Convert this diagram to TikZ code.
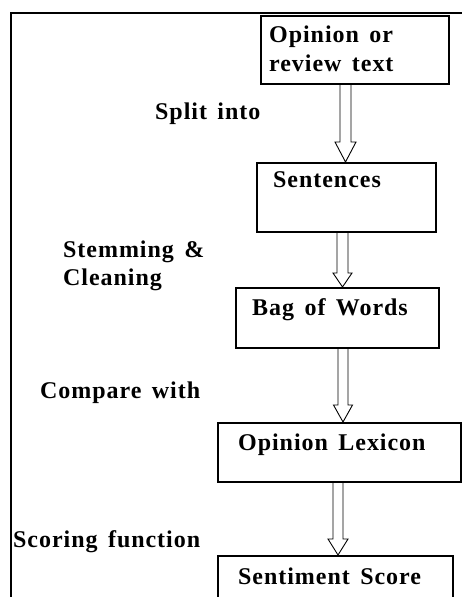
\documentclass[tikz,border=0pt]{standalone}
\usepackage{fontspec}
\setmainfont{Liberation Serif}[LetterSpace=4, WordSpace=1.5]
\usetikzlibrary{calc}
\newcommand\hollowarrow[6]{%
  \path[harrow] let \p1=(#1.south), \p2=(#2.north) in
   (#3pt-#4pt,\y1) -- (#3pt-#4pt,\y2+#6pt) -- (#3pt-#5pt,\y2+#6pt) -- (#3pt,\y2)
   -- (#3pt+#5pt,\y2+#6pt) -- (#3pt+#4pt,\y2+#6pt) -- (#3pt+#4pt,\y1);}
\begin{document}
\begin{tikzpicture}[x=1pt,y=-1pt,
  box/.style={draw, line width=1.6pt, inner sep=0pt, anchor=north west},
  lbl/.style={anchor=base west, inner sep=0pt, font=\fontsize{24}{28}\selectfont\bfseries},
  harrow/.style={draw, line width=0.9pt, line join=miter},
  frame/.style={draw, line width=1.6pt}]
\useasboundingbox (0,0) rectangle (462,597);
\clip (0,0) rectangle (462,597);
\fill[white] (0,0) rectangle (462,597);
\draw[frame] (470,13) -- (11,13) -- (11,605);

\node[box, minimum width=188pt, minimum height=68pt] (b1) at (260,15) {};
\node[box, minimum width=179pt, minimum height=69pt] (b2) at (256,162) {};
\node[box, minimum width=203pt, minimum height=60pt] (b3) at (235,287) {};
\node[box, minimum width=243pt, minimum height=59pt] (b4) at (217,422) {};
\node[box, minimum width=235pt, minimum height=60pt] (b5) at (217,555) {};

\node[lbl] (t1a) at (269,42) {Opinion or};
\node[lbl] (t1b) at (269,71) {review text};
\node[lbl] (t2) at (273,187) {Sentences};
\node[lbl] (t3) at (252,315) {Bag of Words};
\node[lbl] (t4) at (238,450) {Opinion Lexicon};
\node[lbl] (t5) at (238,584) {Sentiment Score};

\node[lbl] (l1) at (155,119) {Split into};
\node[lbl] (l2a) at (63,257) {Stemming \&};
\node[lbl] (l2b) at (63,285) {Cleaning};
\node[lbl] (l3) at (40,398) {Compare with};
\node[lbl] (l4) at (13,547) {Scoring function};

\hollowarrow{b1}{b2}{345.5}{5.5}{10.5}{20}
\hollowarrow{b2}{b3}{342.5}{5.5}{9.5}{14}
\hollowarrow{b3}{b4}{343}{5}{9.5}{17}
\hollowarrow{b4}{b5}{338}{5}{10}{16}
\end{tikzpicture}
\end{document}
